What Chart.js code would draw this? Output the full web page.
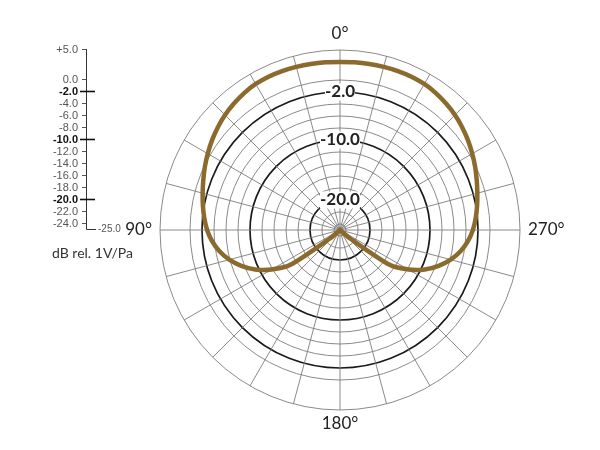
<!DOCTYPE html>
<html>
<head>
<meta charset="utf-8">
<script src="https://cdn.jsdelivr.net/npm/chart.js@4"></script>
<style>
  html, body { margin: 0; padding: 0; background: #fff; }
</style>
</head>
<body>
<canvas id="polar" width="600" height="450"></canvas>
<script>
// polar response, angle in degrees (counter-clockwise as printed), level in dB rel. 1V/Pa
const angles = [
  0, 5, 10, 15, 20, 25, 30, 35, 40, 45, 50, 55, 60, 65, 70, 75, 80, 85,
  90, 95, 100, 105, 110, 115, 120, 125, 130, 135, 140, 145, 150, 155, 160, 165, 170, 175,
  180, 185, 190, 195, 200, 205, 210, 215, 220, 225, 230, 235, 240, 245, 250, 255, 260, 265,
  270, 275, 280, 285, 290, 295, 300, 305, 310, 315, 320, 325, 330, 335, 340, 345, 350, 355
];
const levels = [
  3.0, 3.05, 3.1, 3.15, 3.2, 3.2, 3.1, 2.85, 2.5, 2.1, 1.6, 1.05, 0.45, -0.15, -0.75, -1.3, -1.8, -2.3,
  -2.85, -3.6, -4.6, -5.9, -7.5, -9.4, -11.8, -14.8, -22.8, -25, -25, -25, -25, -25, -25, -25, -25, -25,
  -25, -25, -25, -25, -25, -25, -25, -25, -25, -25, -22.8, -14.8, -11.8, -9.4, -7.5, -5.9, -4.6, -3.6,
  -2.85, -2.3, -1.8, -1.3, -0.75, -0.15, 0.45, 1.05, 1.6, 2.1, 2.5, 2.85, 3.1, 3.2, 3.2, 3.15, 3.1, 3.05
];
const ringValues = [-24, -22, -20, -18, -16, -14, -12, -10, -8, -6, -4, -2, 0, 5];
const boldRings = [-2, -10, -20];
const legendValues = [5, 0, -2, -4, -6, -8, -10, -12, -14, -16, -18, -20, -22, -24];
const cardinalAngles = [0, 90, 180, 270];
const unitLabel = "dB rel. 1V/Pa";

const dbMin = -25;
const dbMax = 5;
const radius = 180;
const tickSize = 17;

// radar goes clockwise from the top, the printed plot goes counter-clockwise
const n = angles.length;
const radarLabels = angles.map((a, k) => angles[(n - k) % n]);
const radarData = angles.map((a, k) => levels[(n - k) % n]);

const gridGray = "#7d7d7d";
const ink = "#222";
const FONT = "Lato, 'Liberation Sans', sans-serif";
const SMALL = "'Liberation Sans', Arial, sans-serif";

const fmt = (v) => (v > 0 ? "+" : "") + v.toFixed(1);

const overlay = {
  id: "overlay",
  afterDraw(chart) {
    const ctx = chart.ctx;
    const r = chart.scales.r;
    ctx.save();

    // angle labels
    ctx.fillStyle = ink;
    ctx.font = "17px " + FONT;
    cardinalAngles.forEach((a) => {
      const i = radarLabels.indexOf(a);
      const gap = a === 0 ? 16 : a === 180 ? 14 : 8;
      const p = r.getPointPosition(i, r.drawingArea + gap);
      ctx.textBaseline = "middle";
      ctx.textAlign = a === 90 ? "right" : a === 270 ? "left" : "center";
      ctx.fillText(a + "°", p.x, p.y);
    });

    // dB legend on the left
    const axisX = 86;
    const yOf = (v) => r.yCenter - r.getDistanceFromCenterForValue(v) - 1;
    ctx.strokeStyle = "#333";
    ctx.lineWidth = 1;
    ctx.beginPath();
    ctx.moveTo(axisX + 0.5, yOf(dbMax));
    ctx.lineTo(axisX + 0.5, yOf(dbMin) + 0.5);
    ctx.lineTo(axisX + 10, yOf(dbMin) + 0.5);
    ctx.stroke();

    ctx.textAlign = "right";
    ctx.textBaseline = "middle";
    legendValues.forEach((v) => {
      const y = Math.round(yOf(v)) + 0.5;
      const bold = boldRings.includes(v);
      ctx.beginPath();
      ctx.lineWidth = bold ? 1.6 : 1;
      ctx.strokeStyle = bold ? "#111" : "#555";
      ctx.moveTo(bold ? axisX - 6 : axisX - 4, y);
      ctx.lineTo(bold ? axisX + 9 : axisX + 0.5, y);
      ctx.stroke();
      ctx.fillStyle = bold ? "#111" : "#555";
      ctx.font = (bold ? "bold " : "") + "11px " + SMALL;
      ctx.fillText(fmt(v), axisX - 8, y);
    });
    ctx.textAlign = "left";
    ctx.fillStyle = "#555";
    ctx.font = "10px " + SMALL;
    ctx.fillText(fmt(dbMin), axisX + 12, yOf(dbMin));

    ctx.fillStyle = "#333";
    ctx.font = "14px " + FONT;
    ctx.fillText(unitLabel, 52, 253);
    ctx.restore();
  }
};

// leave exactly one drawing radius of room round the centre
const half = tickSize / 2;
const cx = 340, cy = 230;

new Chart(document.getElementById("polar").getContext("2d"), {
  type: "radar",
  data: {
    labels: radarLabels,
    datasets: [{
      label: "Response",
      data: radarData,
      borderColor: "#8b6a2d",
      borderWidth: 4.5,
      pointRadius: 0,
      pointHoverRadius: 0,
      fill: false,
      tension: 0.25,
    }]
  },
  options: {
    responsive: false,
    animation: false,
    layout: {
      padding: {
        left: cx - radius - half,
        right: 600 - cx - radius - half,
        top: cy - radius - half,
        bottom: 450 - cy - radius - half,
      }
    },
    plugins: {
      legend: { display: false },
      tooltip: { enabled: false },
    },
    scales: {
      r: {
        min: dbMin,
        max: dbMax,
        afterBuildTicks: (scale) => {
          scale.ticks = ringValues.map((v) => ({ value: v }));
        },
        grid: {
          circular: true,
          color: (c) => (c.tick && boldRings.includes(c.tick.value) ? "#1a1a1a" : gridGray),
          lineWidth: (c) => (c.tick && boldRings.includes(c.tick.value) ? 1.7 : 0.9),
        },
        angleLines: {
          color: (c) => (c.index % 3 === 0 ? gridGray : "rgba(0,0,0,0)"),
          lineWidth: 0.9,
        },
        pointLabels: { display: false },
        ticks: {
          display: true,
          color: ink,
          font: { family: FONT, size: tickSize, weight: "bold" },
          callback: (v) => (boldRings.includes(v) ? v.toFixed(1) : ""),
          showLabelBackdrop: (c) => !!(c.tick && boldRings.includes(c.tick.value)),
          backdropColor: "#fff",
          backdropPadding: (c) => {
            const v = c.tick ? c.tick.value : null;
            const side = v === -2 ? 17 : v === -10 ? 8 : 3;
            return { top: 0, bottom: 0, left: side, right: side };
          },
        },
      }
    }
  },
  plugins: [overlay]
});
</script>
</body>
</html>
